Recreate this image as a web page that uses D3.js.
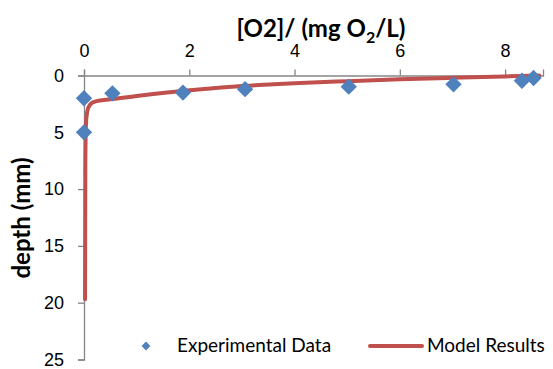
<!DOCTYPE html>
<html>
<head>
<meta charset="utf-8">
<script src="https://cdn.jsdelivr.net/npm/d3@7"></script>
<style>
  html, body { margin: 0; padding: 0; background: #fff; }
  svg { display: block; font-family: Lato, "Open Sans", sans-serif; }
</style>
</head>
<body>
<svg id="chart" width="553" height="369"></svg>
<script>
// Measured oxygen concentration (mg O2/L) against sediment depth (mm)
const expConc  = [0.0, 0.0, 0.54, 1.88, 3.06, 5.03, 7.02, 8.32, 8.54];
const expDepth = [2.0, 5.0, 1.57, 1.5, 1.2, 0.98, 0.78, 0.46, 0.22];

// Modelled oxygen profile
const modelConc  = [8.65, 8.0, 7.0, 6.0, 5.0, 4.0, 3.0, 2.0, 1.0, 0.5, 0.3, 0.18, 0.11, 0.06, 0.035, 0.025, 0.02];
const modelDepth = [0.0, 0.08, 0.2, 0.33, 0.5, 0.68, 0.92, 1.3, 1.8, 2.1, 2.2, 2.35, 2.6, 3.2, 4.5, 8.0, 19.7];

const xTicks = [0, 2, 4, 6, 8];
const yTicks = [0, 5, 10, 15, 20, 25];

const seriesNames = ["Experimental Data", "Model Results"];
const blue = "#4F81BD", red = "#C0504D", axisGrey = "#868686";

const svg = d3.select("#chart");

const x = d3.scaleLinear().domain([0, 8.72]).range([84, 543]);
const y = d3.scaleLinear().domain([0, 25]).range([75.5, 359.5]);

// Top x axis
const xAxis = svg.append("g")
  .attr("transform", `translate(0,${y(0)})`)
  .call(d3.axisTop(x).tickValues(xTicks).tickSize(6).tickPadding(13).tickFormat(d3.format("d")));

// Left y axis (depth increases downward)
const yAxis = svg.append("g")
  .attr("transform", `translate(${x(0)},0)`)
  .call(d3.axisLeft(y).tickValues(yTicks).tickSize(6).tickPadding(14).tickFormat(d3.format("d")));

[xAxis, yAxis].forEach(g => {
  g.select(".domain").attr("stroke", axisGrey).attr("stroke-width", 1.3);
  g.selectAll(".tick line").attr("stroke", axisGrey).attr("stroke-width", 1.3);
  g.selectAll(".tick text").attr("fill", "#000").style("font-size", "18px");
});

// Model curve
const pts = modelConc.map((c, i) => [c, modelDepth[i]]);
svg.append("path")
  .datum(pts)
  .attr("fill", "none")
  .attr("stroke", red)
  .attr("stroke-width", 4)
  .attr("stroke-linecap", "round")
  .attr("stroke-linejoin", "round")
  .attr("d", d3.line().x(d => x(d[0])).y(d => y(d[1])).curve(d3.curveMonotoneY));

// Experimental markers
const diamond = d3.symbol().type(d3.symbolDiamond2).size(170);
svg.append("g").selectAll("path")
  .data(expConc.map((c, i) => [c, expDepth[i]]))
  .join("path")
  .attr("transform", d => `translate(${x(d[0])},${y(d[1])})`)
  .attr("d", diamond)
  .attr("fill", blue);

// Axis titles
const title = svg.append("text")
  .attr("x", 321).attr("y", 37)
  .attr("text-anchor", "middle")
  .style("font-size", "24px").style("font-weight", "bold");
title.append("tspan").text("[O2]/ (mg O");
title.append("tspan").attr("dy", 6).style("font-size", "16px").text("2");
title.append("tspan").attr("dy", -6).text("/L)");

svg.append("text")
  .attr("transform", "translate(30,218) rotate(-90)")
  .attr("text-anchor", "middle")
  .style("font-size", "24px").style("font-weight", "bold")
  .text("depth (mm)");

// Legend
const legend = svg.append("g");
legend.append("path")
  .attr("transform", "translate(146,346)")
  .attr("d", d3.symbol().type(d3.symbolDiamond2).size(50))
  .attr("fill", blue);
legend.append("text").attr("x", 177).attr("y", 352)
  .style("font-size", "19px").text(seriesNames[0]);
legend.append("line")
  .attr("x1", 370).attr("x2", 422).attr("y1", 346).attr("y2", 346)
  .attr("stroke", red).attr("stroke-width", 4).attr("stroke-linecap", "round");
legend.append("text").attr("x", 427).attr("y", 352)
  .style("font-size", "19px").text(seriesNames[1]);
</script>
</body>
</html>
